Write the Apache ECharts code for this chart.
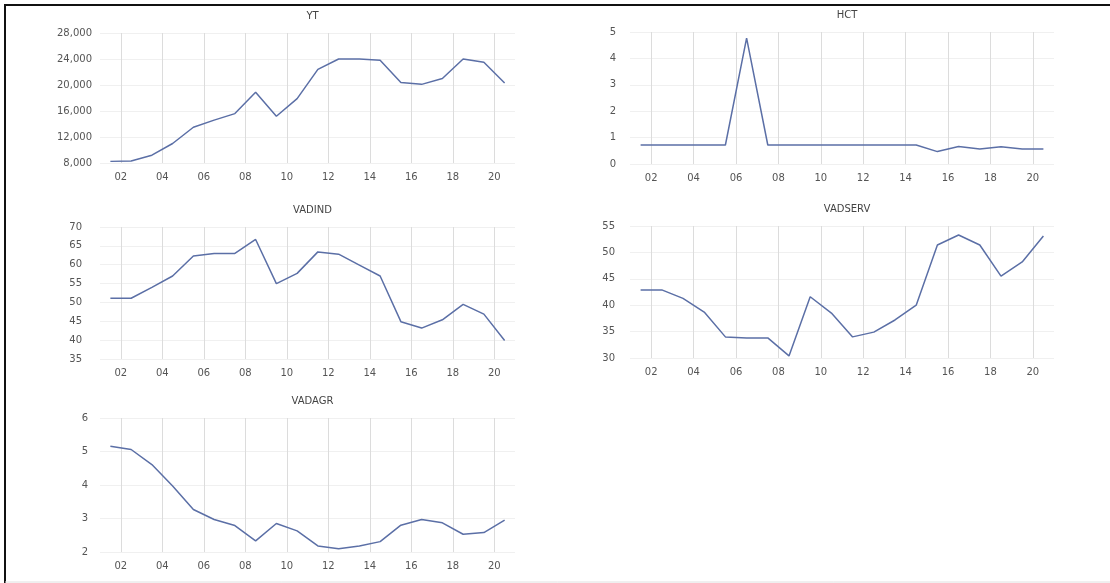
<!DOCTYPE html>
<html><head><meta charset="utf-8">
<script src="https://cdn.jsdelivr.net/npm/echarts@6/dist/echarts.min.js"></script>
<style>html,body{margin:0;padding:0;background:#fff}#c{width:1110px;height:583px}</style>
</head><body><div id="c"></div>
<script>
const years = [2001,2002,2003,2004,2005,2006,2007,2008,2009,2010,2011,2012,2013,2014,2015,2016,2017,2018,2019,2020];
const tickYears = [2002,2004,2006,2008,2010,2012,2014,2016,2018,2020];
const YT = [8250,8300,9200,11000,13500,14600,15600,18900,15200,17900,22400,24000,24000,23800,20400,20100,21000,24000,23500,20300];
const HCT = [0.72,0.72,0.72,0.72,0.72,4.77,0.72,0.72,0.72,0.72,0.72,0.72,0.72,0.72,0.47,0.66,0.57,0.65,0.57,0.57];
const VADIND = [51.1,51.1,54.0,57.0,62.3,63.0,63.0,66.7,55.0,57.7,63.4,62.8,59.9,57.0,44.9,43.2,45.4,49.5,46.9,39.9];
const VADSERV = [42.9,42.9,41.3,38.7,34.0,33.8,33.8,30.4,41.6,38.5,34.0,34.9,37.2,40.0,51.4,53.3,51.4,45.5,48.2,53.1];
const VADAGR = [5.16,5.06,4.61,3.97,3.27,2.97,2.79,2.33,2.85,2.63,2.18,2.10,2.18,2.31,2.80,2.97,2.87,2.53,2.58,2.95];

const panels = [
  {name:'YT', data:YT, min:8000, max:28000, interval:4000, grid:{left:100, width:415, top:33, height:130}, lm:8, comma:true},
  {name:'HCT', data:HCT, min:0, max:5, interval:1, grid:{left:630, width:424, top:32, height:132}, lm:14},
  {name:'VADIND', data:VADIND, min:35, max:70, interval:5, grid:{left:100, width:415, top:227, height:132}, lm:18},
  {name:'VADSERV', data:VADSERV, min:30, max:55, interval:5, grid:{left:630, width:424, top:226, height:132}, lm:15},
  {name:'VADAGR', data:VADAGR, min:2, max:6, interval:1, grid:{left:100, width:415, top:418, height:134}, lm:12}
];

const font = 'DejaVu Sans';
const lineColor = '#5b6fa6';
const option = {
  animation:false,
  backgroundColor:'#fff',
  title: panels.map(p => ({
    text:p.name, left:p.grid.left + p.grid.width/2, top:p.grid.top - 27, textAlign:'center',
    textStyle:{fontFamily:font, fontSize:10, fontWeight:'normal', color:'#444'}
  })),
  grid: panels.map(p => p.grid),
  xAxis: panels.map((p,i) => ({
    type:'value', gridIndex:i, min:2001, max:2021,
    axisLine:{show:false},
    axisTick:{show:false, customValues:tickYears},
    axisLabel:{customValues:tickYears, formatter:v => String(v).slice(2), fontFamily:font, fontSize:10, color:'#555', margin:9},
    splitLine:{show:true, lineStyle:{color:'#dcdcdc', width:1}}
  })),
  yAxis: panels.map((p,i) => ({
    type:'value', gridIndex:i, min:p.min, max:p.max, interval:p.interval,
    axisLine:{show:false}, axisTick:{show:false},
    axisLabel:{fontFamily:font, fontSize:10, color:'#555', margin:p.lm,
      formatter: v => p.comma ? v.toLocaleString('en-US') : String(v)},
    splitLine:{show:true, lineStyle:{color:'#f0f0f0', width:1}}
  })),
  series: panels.map((p,i) => ({
    type:'line', xAxisIndex:i, yAxisIndex:i, showSymbol:false,
    data: years.map((y,k) => [y + 0.5, p.data[k]]),
    lineStyle:{color:lineColor, width:1.5}, itemStyle:{color:lineColor}
  })),
  graphic:[
    {type:'line', shape:{x1:4, y1:5, x2:1110, y2:5}, style:{stroke:'#111', lineWidth:2}},
    {type:'line', shape:{x1:5, y1:4, x2:5, y2:583}, style:{stroke:'#111', lineWidth:2}},
    {type:'line', shape:{x1:5, y1:582, x2:1110, y2:582}, style:{stroke:'#e0e0e0', lineWidth:1}}
  ]
};
const chart = echarts.init(document.getElementById('c'), null, {renderer:'canvas'});
chart.setOption(option);
</script></body></html>
